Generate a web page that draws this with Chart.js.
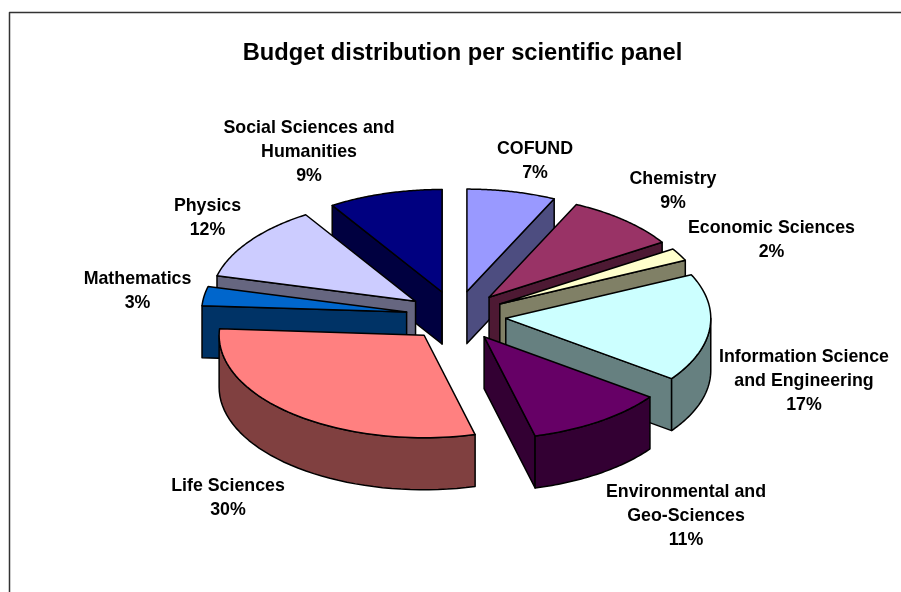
<!DOCTYPE html>
<html>
<head>
<meta charset="utf-8">
<script src="https://cdn.jsdelivr.net/npm/chart.js@4"></script>
<style>
    html, body { margin: 0; padding: 0; background: #fff; }
    #chartBox { width: 901px; height: 592px; }
</style>
</head>
<body>
<div id="chartBox"><canvas id="budgetChart"></canvas></div>
<script>
const chartTitle = 'Budget distribution per scientific panel';
const panels = ['COFUND', 'Chemistry', 'Economic Sciences', 'Information Science and Engineering',
    'Environmental and Geo-Sciences', 'Life Sciences', 'Mathematics', 'Physics', 'Social Sciences and Humanities'];
const budgetShare = [7, 9, 2, 17, 11, 30, 3, 12, 9];
const topColors = ['#9999FF', '#993366', '#FFFFCC', '#CCFFFF', '#660066', '#FF8080', '#0066CC', '#CCCCFF', '#000080'];
const wallColors = ['#4D4D80', '#4D1933', '#808066', '#668080', '#330033', '#804040', '#003366', '#666680', '#000040'];

// label layout: centre x, first baseline y, wrapped lines
const labelLayout = [
    {x: 535, y: 154, lines: ['COFUND']},
    {x: 673, y: 184, lines: ['Chemistry']},
    {x: 771.5, y: 233, lines: ['Economic Sciences']},
    {x: 804, y: 362, lines: ['Information Science', 'and Engineering']},
    {x: 686, y: 497, lines: ['Environmental and', 'Geo-Sciences']},
    {x: 228, y: 491, lines: ['Life Sciences']},
    {x: 137.5, y: 284, lines: ['Mathematics']},
    {x: 207.5, y: 211, lines: ['Physics']},
    {x: 309, y: 133, lines: ['Social Sciences and', 'Humanities']}
];

const pieCx = 456, pieCy = 316, squash = 0.5, wallDepth = 52, explode = 50;

const pointOn = (p, angle, r) => ({x: p.x + r * Math.cos(angle), y: p.y + r * squash * Math.sin(angle)});

const drawWalls = (ctx, p, arc, color) => {
    const {startAngle: a0, endAngle: a1, outerRadius: r} = arc;
    ctx.fillStyle = color;
    ctx.strokeStyle = '#000';
    ctx.lineWidth = 1.5;
    ctx.lineJoin = 'round';

    const radialFace = angle => {
        const e = pointOn(p, angle, r);
        ctx.beginPath();
        ctx.moveTo(p.x, p.y);
        ctx.lineTo(e.x, e.y);
        ctx.lineTo(e.x, e.y + wallDepth);
        ctx.lineTo(p.x, p.y + wallDepth);
        ctx.closePath();
        ctx.fill();
        ctx.stroke();
    };
    if (Math.cos(a0) < 0) radialFace(a0);
    if (Math.cos(a1) > 0) radialFace(a1);

    // outer wall, only the part facing the viewer
    const TAU = Math.PI * 2;
    for (const k of [-1, 0, 1]) {
        const from = Math.max(a0, k * TAU), to = Math.min(a1, k * TAU + Math.PI);
        if (to <= from) continue;
        ctx.beginPath();
        for (let i = 0; i <= 40; i++) {
            const q = pointOn(p, from + (to - from) * i / 40, r);
            i ? ctx.lineTo(q.x, q.y) : ctx.moveTo(q.x, q.y);
        }
        for (let i = 40; i >= 0; i--) {
            const q = pointOn(p, from + (to - from) * i / 40, r);
            ctx.lineTo(q.x, q.y + wallDepth);
        }
        ctx.closePath();
        ctx.fill();
        ctx.stroke();
    }
};

const pie3d = {
    id: 'pie3d',
    beforeDatasetDraw(chart) {
        const ctx = chart.ctx;
        const arcs = chart.getDatasetMeta(0).data;
        const mid = a => (a.startAngle + a.endAngle) / 2;
        const order = arcs.map((a, i) => i).sort((i, j) => Math.sin(mid(arcs[i])) - Math.sin(mid(arcs[j])));

        for (const i of order) {
            const arc = arcs[i], m = mid(arc);
            const p = {x: pieCx + explode * Math.cos(m), y: pieCy + explode * squash * Math.sin(m)};

            drawWalls(ctx, p, arc, wallColors[i]);

            // top face is the library's own arc, flattened
            ctx.save();
            ctx.translate(p.x, p.y);
            ctx.scale(1, squash);
            ctx.translate(-arc.x, -arc.y);
            arc.draw(ctx);
            ctx.restore();

            const s = pointOn(p, arc.startAngle, arc.outerRadius);
            ctx.beginPath();
            ctx.moveTo(p.x, p.y);
            ctx.lineTo(s.x, s.y);
            for (let t = 1; t <= 60; t++) {
                const q = pointOn(p, arc.startAngle + (arc.endAngle - arc.startAngle) * t / 60, arc.outerRadius);
                ctx.lineTo(q.x, q.y);
            }
            ctx.closePath();
            ctx.strokeStyle = '#000';
            ctx.lineWidth = 1.5;
            ctx.stroke();
        }
        return false;
    },
    afterDraw(chart) {
        const ctx = chart.ctx;
        ctx.save();
        // chart frame: only left and top are inside the crop
        ctx.strokeStyle = '#333';
        ctx.lineWidth = 1.5;
        ctx.beginPath();
        ctx.moveTo(9.5, 592);
        ctx.lineTo(9.5, 12.5);
        ctx.lineTo(901, 12.5);
        ctx.stroke();

        ctx.fillStyle = '#000';
        ctx.font = 'bold 17.8px "Liberation Sans", Arial, sans-serif';
        ctx.textAlign = 'center';
        labelLayout.forEach(({x, y, lines}, i) => {
            [...lines, budgetShare[i] + '%'].forEach((line, n) => {
                ctx.fillText(line, x, y + n * 24);
            });
        });
        ctx.restore();
    }
};

new Chart(document.getElementById('budgetChart'), {
    type: 'pie',
    data: {
        labels: panels,
        datasets: [{
            data: budgetShare,
            backgroundColor: topColors,
            borderWidth: 0,
            radius: 205
        }]
    },
    options: {
        responsive: true,
        maintainAspectRatio: false,
        animation: false,
        layout: {padding: {left: 24}},
        plugins: {
            legend: {display: false},
            tooltip: {enabled: false},
            title: {
                display: true,
                text: chartTitle,
                color: '#000',
                font: {family: '"Liberation Sans", Arial, sans-serif', size: 23.7, weight: 'bold'},
                padding: {top: 39, bottom: 10}
            }
        }
    },
    plugins: [pie3d]
});
</script>
</body>
</html>
